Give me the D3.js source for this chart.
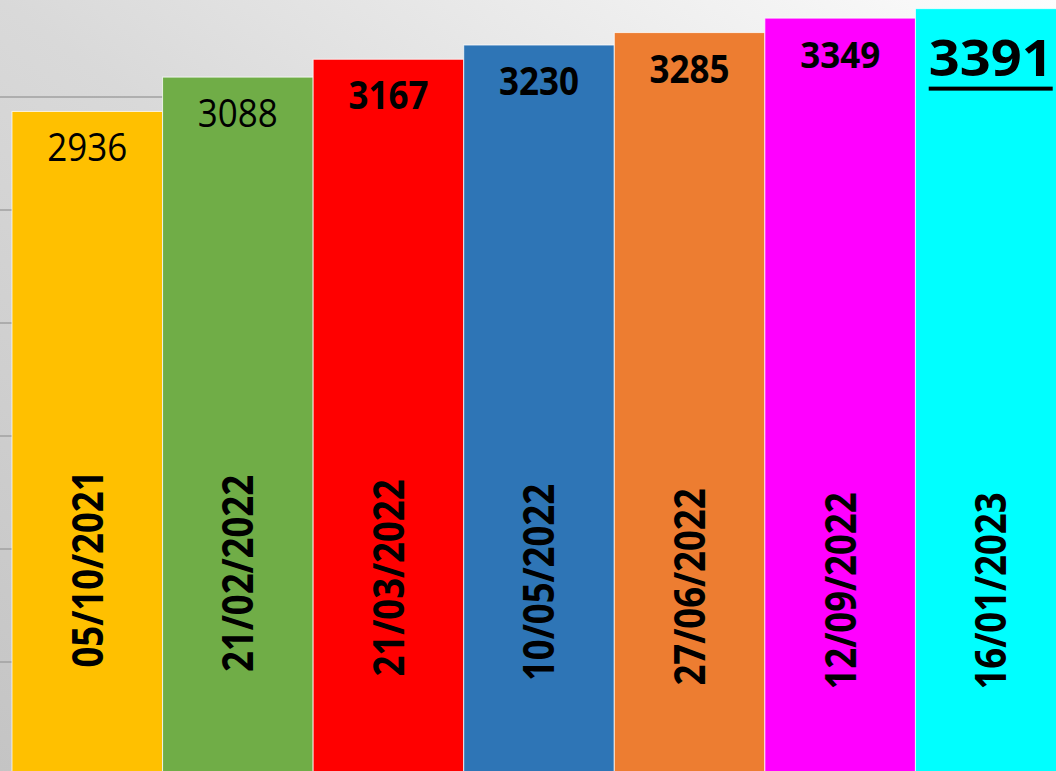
<!DOCTYPE html>
<html>
<head>
<meta charset="utf-8">
<script src="https://cdn.jsdelivr.net/npm/d3@7"></script>
<style>
  html, body { margin: 0; padding: 0; overflow: hidden; background: #fff; }
</style>
</head>
<body>
<div id="chart"></div>
<script>
// Data
const dates = ["05/10/2021", "21/02/2022", "21/03/2022", "10/05/2022", "27/06/2022", "12/09/2022", "16/01/2023"];
const values = [2936, 3088, 3167, 3230, 3285, 3349, 3391];
const colors = ["#FFC000", "#70AD47", "#FF0000", "#2E75B6", "#ED7D31", "#FF00FF", "#00FFFF"];
const gridTicks = [500, 1000, 1500, 2000, 2500, 3000];

const width = 1056;
const height = 771;

const svg = d3.select("#chart")
    .append("svg")
    .attr("width", width)
    .attr("height", height);

// Background gradient (light top right, grey bottom left)
const defs = svg.append("defs");
const grad = defs.append("linearGradient")
    .attr("id", "bg")
    .attr("x1", 1).attr("y1", 0)
    .attr("x2", 0).attr("y2", 1);
grad.append("stop").attr("offset", 0).attr("stop-color", "#fdfdfd");
grad.append("stop").attr("offset", 0.5).attr("stop-color", "#d9d9d9");
grad.append("stop").attr("offset", 1).attr("stop-color", "#c4c4c4");

svg.append("rect")
    .attr("width", width)
    .attr("height", height)
    .attr("fill", "url(#bg)");

// Scales
const x = d3.scaleBand()
    .domain(dates)
    .range([12, 1066])
    .padding(0);

const y = d3.scaleLinear()
    .domain([0, 3500])
    .range([775, -16]);

// Grid lines
svg.append("g")
    .selectAll("line")
    .data(gridTicks)
    .enter()
    .append("line")
    .attr("x1", 0)
    .attr("x2", width)
    .attr("y1", d => y(d))
    .attr("y2", d => y(d))
    .attr("stroke", "#a0a0a0")
    .attr("stroke-width", 1.5);

const rows = dates.map((d, i) => ({ date: d, value: values[i], color: colors[i], i: i }));

// Bars
svg.selectAll("rect.bar")
    .data(rows)
    .enter()
    .append("rect")
    .attr("class", "bar")
    .attr("x", d => x(d.date))
    .attr("y", d => y(d.value))
    .attr("width", x.bandwidth())
    .attr("height", d => y(0) - y(d.value))
    .attr("fill", d => d.color)
    .attr("stroke", "rgba(255,255,255,0.75)")
    .attr("stroke-width", 1);

const font = "'Open Sans', 'Liberation Sans', sans-serif";
const last = values.length - 1;

// Value labels
svg.selectAll("text.value")
    .data(rows)
    .enter()
    .append("text")
    .attr("class", "value")
    .attr("x", d => x(d.date) + x.bandwidth() / 2)
    .attr("y", d => y(d.value) + (d.i === last ? 67 : 50))
    .attr("text-anchor", "middle")
    .attr("font-family", font)
    .attr("font-size", d => d.i === last ? 51 : (d.i === 5 ? 36 : 39))
    .attr("font-weight", d => d.i < 2 ? 400 : 700)
    .attr("textLength", d => d.i === last ? 124 : 80)
    .attr("lengthAdjust", "spacingAndGlyphs")
    .attr("fill", "#000")
    .text(d => d.value);

// Underline the latest value
const lastNode = svg.selectAll("text.value").filter(d => d.i === last).node();
const bb = lastNode.getBBox();
svg.append("rect")
    .attr("x", bb.x)
    .attr("y", y(values[last]) + 78)
    .attr("width", bb.width)
    .attr("height", 4)
    .attr("fill", "#000");

// Date labels, rotated inside the bars
svg.selectAll("text.date")
    .data(rows)
    .enter()
    .append("text")
    .attr("class", "date")
    .attr("transform", d => {
        const cx = x(d.date) + x.bandwidth() / 2;
        const cy = Math.min(569 + d.i * 4.5, 591);
        return `translate(${cx},${cy}) rotate(-90)`;
    })
    .attr("text-anchor", "middle")
    .attr("dy", "0.36em")
    .attr("font-family", font)
    .attr("font-size", 43)
    .attr("font-weight", 700)
    .attr("textLength", 197)
    .attr("lengthAdjust", "spacingAndGlyphs")
    .attr("fill", "#000")
    .text(d => d.date);
</script>
</body>
</html>
